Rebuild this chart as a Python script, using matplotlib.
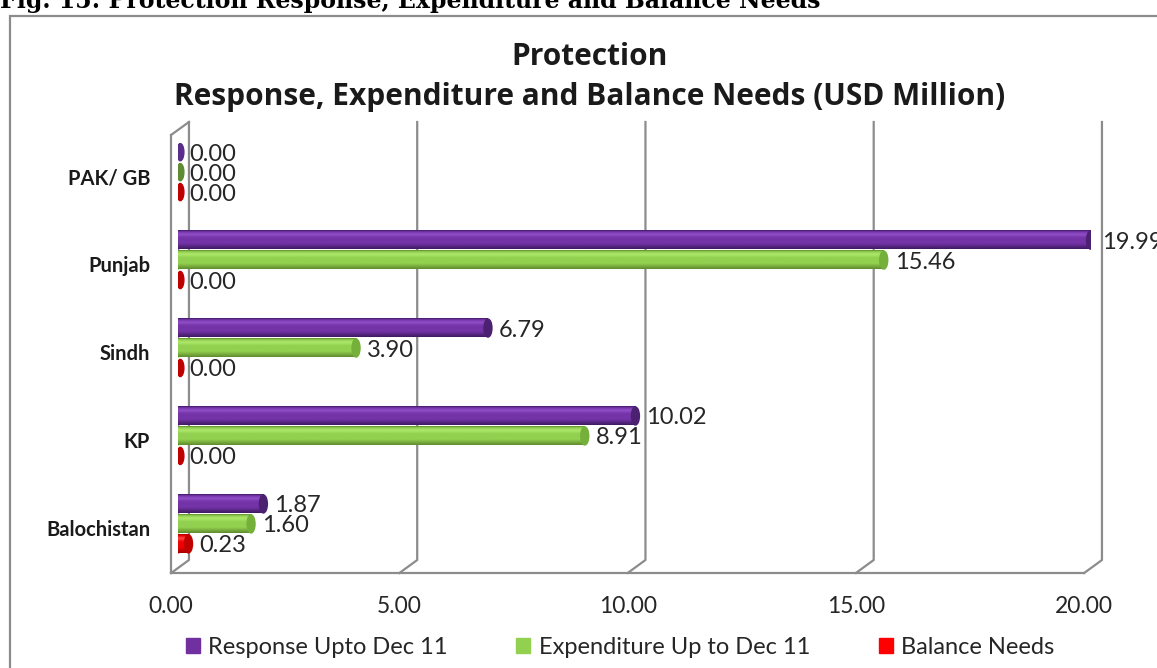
import numpy as np
import matplotlib
matplotlib.use("Agg")
import matplotlib.pyplot as plt
import matplotlib.transforms as mtransforms
from matplotlib.patches import Ellipse, Rectangle
from matplotlib.lines import Line2D
from matplotlib.colors import to_rgb

# ---- data ----
categories = ["Balochistan", "KP", "Sindh", "Punjab", "PAK/ GB"]
response = [1.87, 10.02, 6.79, 19.99, 0.00]
expenditure = [1.60, 8.91, 3.90, 15.46, 0.00]
balance = [0.23, 0.00, 0.00, 0.00, 0.00]
series_names = ["Response Upto Dec 11", "Expenditure Up to Dec 11", "Balance Needs"]
xticks = [0, 5, 10, 15, 20]
xtick_labels = ["0.00", "5.00", "10.00", "15.00", "20.00"]

plt.rcParams['font.family'] = ['Lato', 'DejaVu Sans']

W, H = 1157, 668
fig = plt.figure(figsize=(W / 100, H / 100), dpi=100)
ax = fig.add_axes([178 / W, 1 - 567 / H, (1091 - 178) / W, (567 - 122) / H])
ax.set_xlim(0, 20)
ax.set_ylim(-0.49, 4.57)
ax.axis('off')

blend = mtransforms.blended_transform_factory(ax.transData, ax.transAxes)
BACK, FRONT = 0.24, -0.15
YB, YF = 0.0157, -0.0135
grid_c = '#8c8c8c'
for v in xticks:
    ax.add_line(Line2D([v + BACK, v + BACK, v + FRONT], [1.0, YB, YF], transform=blend,
                       color=grid_c, lw=1.6, clip_on=False, zorder=1))
# left wall
ax.add_line(Line2D([FRONT, FRONT], [YF, 0.971], transform=blend, color=grid_c, lw=1.6,
                   clip_on=False, zorder=1))
ax.add_line(Line2D([FRONT, BACK], [0.971, 1.0], transform=blend, color=grid_c, lw=1.6,
                   clip_on=False, zorder=1))
# floor front
ax.add_line(Line2D([FRONT, 20 + FRONT], [YF, YF], transform=blend, color=grid_c, lw=1.6,
                   clip_on=False, zorder=1))

for v, lab in zip(xticks, xtick_labels):
    ax.text(v + FRONT, -0.088, lab, transform=blend, ha='center', va='center',
            fontsize=16.5, color='#262626')

# series styles
styles = [
    dict(dark='#3f1a60', base='#7434a8', light='#9150c8', cap='#4d2172', zero='#5b2c8a', legend='#7030a0'),
    dict(dark='#5f8c2c', base='#92d050', light='#aee86c', cap='#74b03a', zero='#5e8c34', legend='#92d050'),
    dict(dark='#a00000', base='#f00000', light='#ff4a4a', cap='#c00000', zero='#c00000', legend='#ff0000'),
]
offsets = [0.227, 0.0, -0.227]
BH = 0.205
CAPW = 0.175

def gradient(st, n=64):
    d, b, l = (np.array(to_rgb(st[k])) for k in ('dark', 'base', 'light'))
    stops = [(0.0, d), (0.3, b), (0.6, b), (0.78, l), (0.92, b), (1.0, d)]
    t = np.linspace(0, 1, n)
    img = np.zeros((n, 1, 3))
    for i, tt in enumerate(t):
        for (t0, c0), (t1, c1) in zip(stops[:-1], stops[1:]):
            if t0 <= tt <= t1:
                f = (tt - t0) / (t1 - t0) if t1 > t0 else 0
                img[i, 0] = c0 * (1 - f) + c1 * f
                break
    return img

for s, vals in enumerate([response, expenditure, balance]):
    st = styles[s]
    img = gradient(st)
    for i, v in enumerate(vals):
        y = i + offsets[s]
        if v > 0:
            ax.add_patch(Ellipse((0, y), CAPW, BH, color=st['base'], zorder=2))
            ax.imshow(img, extent=(0, v, y - BH / 2, y + BH / 2), aspect='auto',
                      origin='lower', zorder=3, interpolation='bilinear')
            ax.add_patch(Ellipse((v, y), CAPW, BH, color=st['cap'], zorder=4))
        else:
            ax.add_patch(Ellipse((0.05, y), CAPW * 0.9, BH * 0.95, color=st['zero'], zorder=4))
        ax.annotate(f"{v:.2f}", xy=(v, y), xytext=(11, -2), textcoords='offset pixels',
                    ha='left', va='center', fontsize=17, color='#262626', zorder=5,
                    annotation_clip=False)

ax.set_xlim(0, 20)
ax.set_ylim(-0.49, 4.57)

for i, c in enumerate(categories):
    ax.annotate(c, xy=(0, i), xytext=(-28, -6), textcoords='offset pixels', ha='right',
                va='center', fontsize=14.5, fontweight='bold', color='#1a1a1a',
                annotation_clip=False)

# titles
fig.text(590 / W, 1 - 65 / H, "Protection", ha='center', va='baseline', fontsize=21.5,
         fontweight='bold', family=['Open Sans', 'DejaVu Sans'], color='#1a1a1a')
fig.text(590 / W, 1 - 105 / H, "Response, Expenditure and Balance Needs (USD Million)",
         ha='center', va='baseline', fontsize=21.5, fontweight='bold',
         family=['Open Sans', 'DejaVu Sans'], color='#1a1a1a')

# caption (partly above the top edge, as in the reference)
fig.text(0.0, 1 - 8 / H, "Fig. 15: Protection Response, Expenditure and Balance Needs",
         ha='left', va='baseline', fontsize=17, fontweight='bold',
         family=['DejaVu Serif'], color='#000000')

# border
fig.add_artist(Rectangle((10 / W, -0.1), 1.2, (1 - 16 / H) + 0.1, transform=fig.transFigure,
                         fill=False, ec='#8c8c8c', lw=1.6))

# legend
handles = [Rectangle((0, 0), 1, 1, color=st['legend']) for st in styles]
fig.legend(handles, series_names, loc='center', bbox_to_anchor=(620 / W, 1 - 647 / H),
           ncol=3, frameon=False, fontsize=17, handlelength=0.6, handleheight=0.6,
           handletextpad=0.35, columnspacing=2.9, labelcolor='#262626')

fig.savefig("out.png", dpi=100)
